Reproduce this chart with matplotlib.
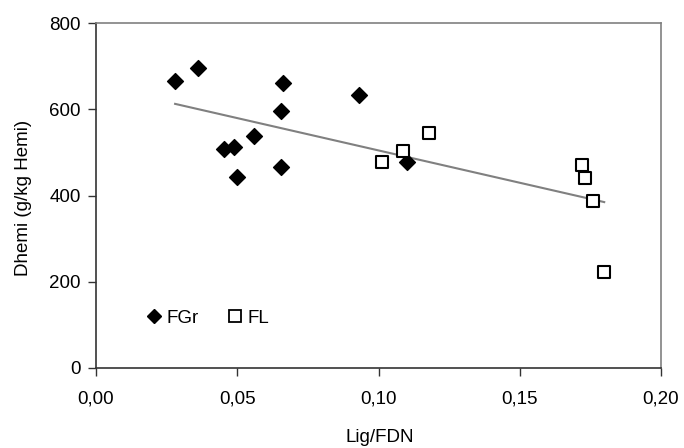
import numpy as np
import matplotlib.pyplot as plt
from matplotlib.ticker import FuncFormatter
from matplotlib.lines import Line2D
from matplotlib.transforms import Bbox, TransformedBbox

plt.rcParams['font.family'] = ['Liberation Sans', 'DejaVu Sans']

# FGr (filled diamonds)
fgr_x = [0.028, 0.036, 0.0662, 0.0654, 0.0559, 0.0453, 0.0488, 0.050, 0.0654, 0.0932, 0.110]
fgr_y = [665, 695, 661, 596, 539, 508, 513, 443, 466, 634, 477]

# FL (open squares)
fl_x = [0.1012, 0.1086, 0.1179, 0.1719, 0.1732, 0.176, 0.1799]
fl_y = [478, 504, 544, 470, 440, 387, 222]

xticks = [0.0, 0.05, 0.10, 0.15, 0.20]
yticks = [0, 200, 400, 600, 800]

fs = 13.5

fig = plt.figure(figsize=(6.84, 4.48), dpi=100)
ax = fig.add_axes([96 / 684, 1 - 368 / 448, (661 - 96) / 684, (368 - 23) / 448])

# linear trendline over all points
all_x = np.array(fgr_x + fl_x)
all_y = np.array(fgr_y + fl_y)
slope, icpt = np.polyfit(all_x, all_y, 1)
tx = np.array([all_x.min(), all_x.max()])
ax.plot(tx, slope * tx + icpt, color='#808080', lw=1.5, zorder=2)

ax.scatter(fgr_x, fgr_y, marker='D', s=65, color='black', zorder=3)
ax.scatter(fl_x, fl_y, marker='s', s=80, facecolor='white', edgecolor='black',
           linewidth=1.5, zorder=3)

ax.set_xlim(0, 0.20)
ax.set_ylim(0, 800)
ax.set_xticks(xticks)
ax.set_yticks(yticks)
ax.xaxis.set_major_formatter(FuncFormatter(lambda v, p: ('%.2f' % v).replace('.', ',')))
ax.tick_params(labelsize=fs, direction='out', length=6, width=1, color='#333333')
ax.tick_params(axis='x', pad=10)
ax.tick_params(axis='y', pad=5)

for s in ['left', 'bottom']:
    ax.spines[s].set_color('#333333')
    ax.spines[s].set_linewidth(1.2)
for s in ['top', 'right']:
    ax.spines[s].set_color('#808080')
    ax.spines[s].set_linewidth(1.2)

fig.text(380 / 684, 1 - 446 / 448, 'Lig/FDN', ha='center', va='bottom', fontsize=fs)
# y label: the original is cut off at the top
ylab = fig.text(23 / 684, 1 - 276 / 448, 'Dhemi (g/kg Hemi)', ha='left', va='center',
                rotation=90, rotation_mode='anchor', fontsize=fs)
ylab.set_clip_box(TransformedBbox(Bbox([[0, 0], [1, 1 - 109 / 448]]), fig.transFigure))
ylab.set_clip_on(True)

handles = [
    Line2D([], [], marker='D', ls='none', color='black', markersize=7),
    Line2D([], [], marker='s', ls='none', markerfacecolor='white',
           markeredgecolor='black', markersize=9, markeredgewidth=1.3),
]
ax.legend(handles, ['FGr', 'FL'], ncol=2, frameon=False, fontsize=fs,
          loc='center left', bbox_to_anchor=(0.052, 0.145),
          handletextpad=0.1, columnspacing=1.3, handlelength=1.2)

fig.savefig('out.png', dpi=100)
